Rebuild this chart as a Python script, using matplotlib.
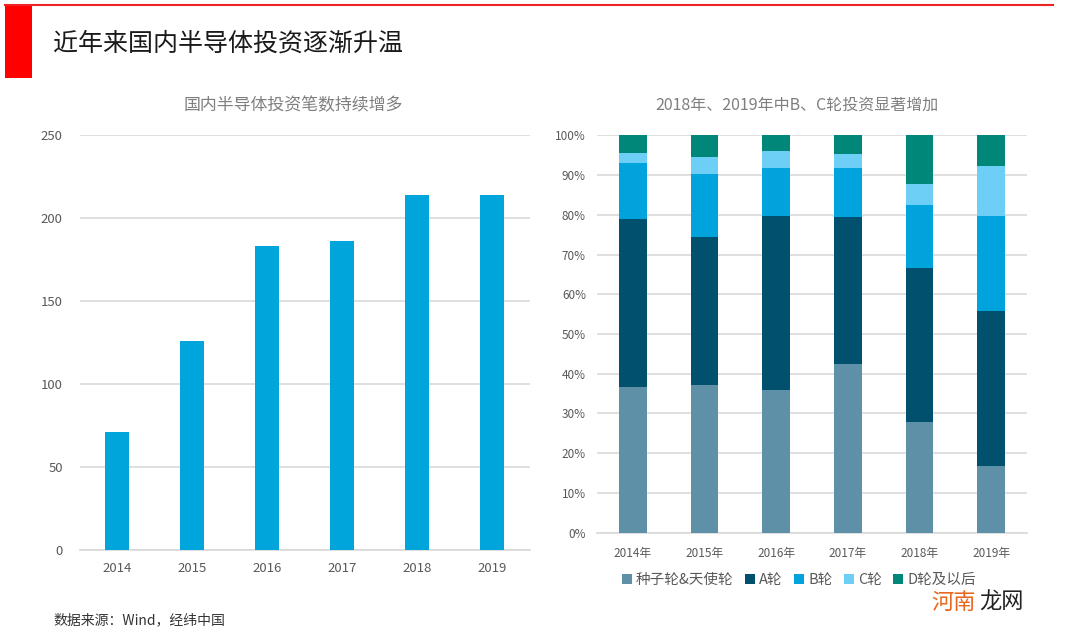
import matplotlib
matplotlib.use("Agg")
import matplotlib.pyplot as plt
from matplotlib.patches import Rectangle
from matplotlib.lines import Line2D
import numpy as np

plt.rcParams['font.family'] = ['Noto Sans CJK SC', 'DejaVu Sans']

# ---- data ----
years = ["2014", "2015", "2016", "2017", "2018", "2019"]
deal_counts = [71, 126, 183, 186, 214, 214]

year_labels = ["2014年", "2015年", "2016年", "2017年", "2018年", "2019年"]
stage_names = ["种子轮&天使轮", "A轮", "B轮", "C轮", "D轮及以后"]
seed_angel = [36.6, 37.2, 35.9, 42.4, 27.9, 16.9]
round_a = [42.3, 37.3, 43.8, 37.0, 38.8, 39.0]
round_b = [14.1, 15.8, 12.0, 12.4, 15.8, 23.8]
round_c = [2.6, 4.2, 4.4, 3.4, 5.3, 12.7]
round_d_plus = [4.4, 5.5, 3.9, 4.8, 12.2, 7.6]

left_ticks = [0, 50, 100, 150, 200, 250]
pct_ticks = [0, 10, 20, 30, 40, 50, 60, 70, 80, 90, 100]

stage_colors = ["#5E90A8", "#00506E", "#00A3DC", "#6DCFF6", "#00877A"]
bar_color = "#00A5DC"
grid_color = "#D9D9D9"
tick_color = "#595959"

fig = plt.figure(figsize=(10.8, 6.37), dpi=100)

# header decorations
fig.add_artist(Rectangle((5/1080, 1-78/637), 27/1080, 73/637, transform=fig.transFigure,
                         color="#FF0000", lw=0))
fig.add_artist(Line2D([5/1080, 1053/1080], [1-5/637, 1-5/637], transform=fig.transFigure,
                      color="#EE2222", lw=1.5))
fig.text(53/1080, 1-44/637, "近年来国内半导体投资逐渐升温", fontsize=18, color="#1a1a1a",
         ha="left", va="center")

# ---- left chart ----
ax1 = fig.add_axes([79.5/1080, 1-550/637, 450/1080, 415/637])
x = np.arange(len(years))
ax1.bar(x, deal_counts, width=0.31, color=bar_color, zorder=3)
ax1.set_xlim(-0.5, len(years)-0.5)
ax1.set_ylim(0, 250)
ax1.set_yticks(left_ticks)
ax1.set_xticks(x)
ax1.set_xticklabels(years)
ax1.yaxis.grid(True, color=grid_color, lw=1.2, zorder=0)
for s in ["top", "right", "left"]:
    ax1.spines[s].set_visible(False)
ax1.spines["bottom"].set_color(grid_color)
ax1.spines["bottom"].set_linewidth(1.2)
ax1.tick_params(axis="both", length=0, colors=tick_color, labelsize=9.5)
ax1.tick_params(axis="x", pad=9)
ax1.tick_params(axis="y", pad=12)
fig.text(293/1080, 1-105/637, "国内半导体投资笔数持续增多", fontsize=12.2, color="#7f7f7f",
         ha="center", va="center")

# ---- right chart ----
ax2 = fig.add_axes([597/1080, 1-532.7/637, 430/1080, 397.4/637])
series = [seed_angel, round_a, round_b, round_c, round_d_plus]
bottom = np.zeros(len(year_labels))
for vals, col, name in zip(series, stage_colors, stage_names):
    ax2.bar(x, vals, width=0.39, bottom=bottom, color=col, label=name, zorder=3)
    bottom += np.array(vals)
ax2.set_xlim(-0.5, len(year_labels)-0.5)
ax2.set_ylim(0, 100)
ax2.set_yticks(pct_ticks)
ax2.set_yticklabels([f"{t}%" for t in pct_ticks])
ax2.set_xticks(x)
ax2.set_xticklabels(year_labels)
ax2.yaxis.grid(True, color=grid_color, lw=1.2, zorder=0)
for s in ["top", "right", "left"]:
    ax2.spines[s].set_visible(False)
ax2.spines["bottom"].set_color(grid_color)
ax2.spines["bottom"].set_linewidth(1.2)
ax2.tick_params(axis="both", length=0, colors=tick_color, labelsize=8.5)
ax2.tick_params(axis="x", pad=10)
ax2.tick_params(axis="y", pad=8)
fig.text(797/1080, 1-105/637, "2018年、2019年中B、C轮投资显著增加", fontsize=11.5, color="#7f7f7f",
         ha="center", va="center")

handles, labels = ax2.get_legend_handles_labels()
leg = fig.legend(handles, labels, loc="center", bbox_to_anchor=(799/1080, 1-580/637),
                 ncol=5, frameon=False, fontsize=10.5, handlelength=0.65, handleheight=0.65,
                 handletextpad=0.3, columnspacing=0.8)
for t in leg.get_texts():
    t.set_color(tick_color)

# source and watermark
fig.text(53/1080, 1-620/637, "数据来源：Wind，经纬中国", fontsize=10, color="#333333",
         ha="left", va="center")
fig.text(976/1080, 1-602/637, "河南", fontsize=16, color="#E8661E", ha="right", va="center")
fig.text(979/1080, 1-602/637, "龙网", fontsize=16, color="#222222", ha="left", va="center")

fig.savefig("out.png", dpi=100)
